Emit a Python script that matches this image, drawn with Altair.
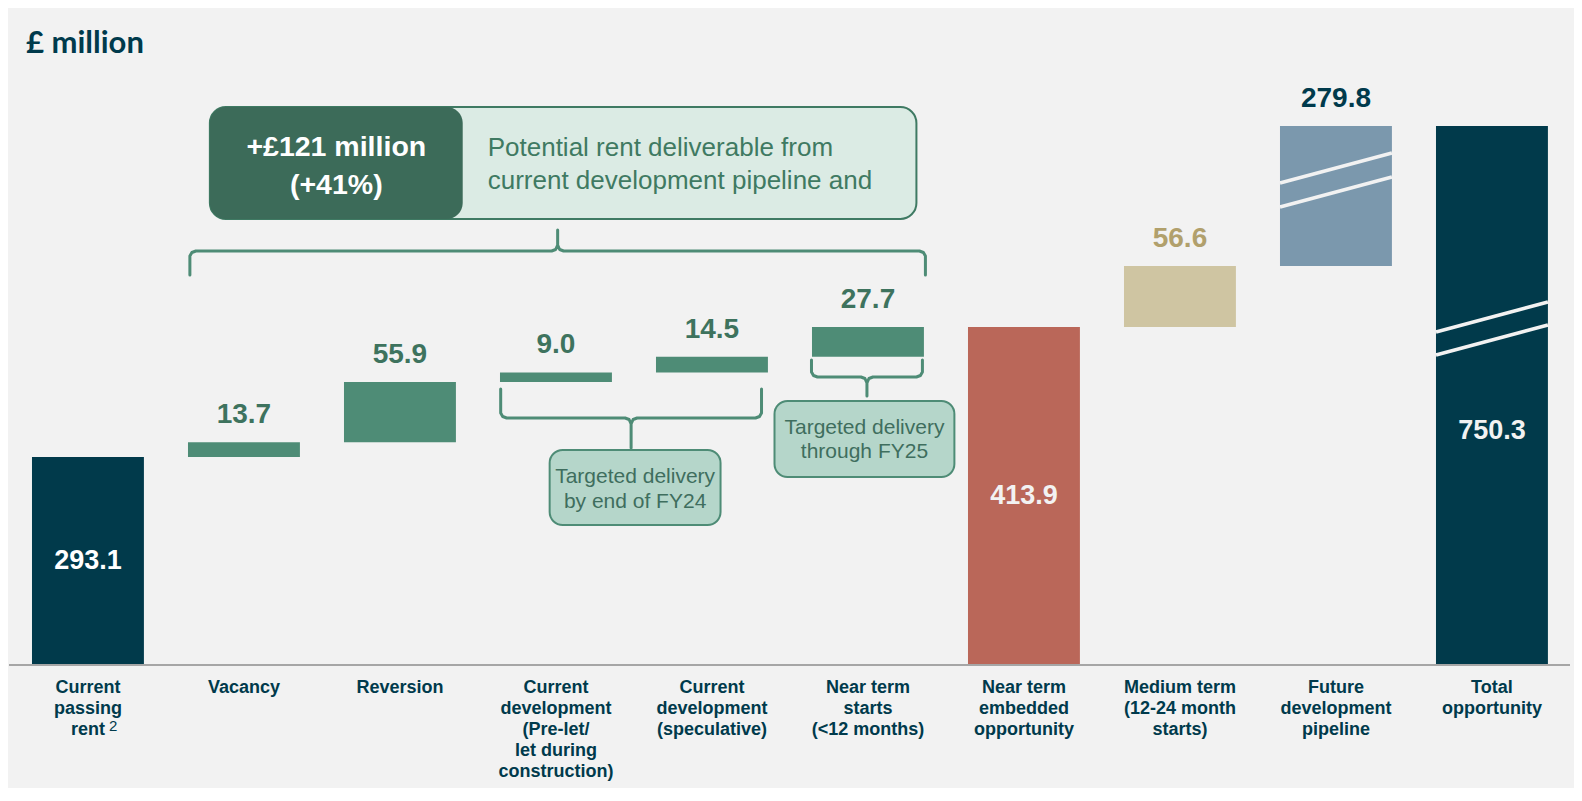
import altair as alt
import pandas as pd

# ---------------- data ----------------
categories = [
    "Current passing rent", "Vacancy", "Reversion",
    "Current development (Pre-let/let during construction)",
    "Current development (speculative)", "Near term starts (<12 months)",
    "Near term embedded opportunity", "Medium term (12-24 month starts)",
    "Future development pipeline", "Total opportunity",
]
tick_labels = [
    "Current\npassing\nrent", "Vacancy", "Reversion",
    "Current\ndevelopment\n(Pre-let/\nlet during\nconstruction)",
    "Current\ndevelopment\n(speculative)", "Near term\nstarts\n(<12 months)",
    "Near term\nembedded\nopportunity", "Medium term\n(12-24 month\nstarts)",
    "Future\ndevelopment\npipeline", "Total\nopportunity",
]
footnote_mark = "2"
values = [293.1, 13.7, 55.9, 9.0, 14.5, 27.7, 413.9, 56.6, 279.8, 750.3]
is_total = [True, False, False, False, False, False, True, False, False, True]
series = ["Passing rent", "Near term growth", "Near term growth", "Near term growth",
          "Near term growth", "Near term growth", "Near term embedded",
          "Medium term", "Future pipeline", "Total"]

headline = ["+\u00a3121 million", "(+41%)"]
headline_note = ["Potential rent deliverable from", "current development pipeline and"]
fy24_note = ["Targeted delivery", "by end of  FY24"]
fy25_note = ["Targeted delivery", "through FY25"]
title_text = "\u00a3 million"

# ---------------- styles / layout ----------------
BAR_COLORS = {"Passing rent": "#013a4b", "Near term growth": "#4e8c76",
              "Near term embedded": "#ba6759", "Medium term": "#cfc5a2",
              "Future pipeline": "#7b98ad", "Total": "#013a4b"}
LABEL_COLORS = {"Near term growth": "#3e735e", "Medium term": "#b1a06c",
                "Future pipeline": "#003a4c"}
DARK = "#003a4c"
GREEN = "#4e8c76"
BG = "#f2f2f2"
FONT = "Liberation Sans"

W, H = 1566, 780
PAGE = 8
X0_PX, STEP_PX = 87.0, 156.1      # page px of first category centre, spacing
BAR_PX = 112
Y_PX = [665, 457, 266.1, 126]      # page px of the y-scale breakpoints


def xv(px):
    return (px - X0_PX) / STEP_PX


# ---------------- waterfall table ----------------
rows = []
running = 0.0
for i, (c, v, t, s) in enumerate(zip(categories, values, is_total, series)):
    start = 0.0 if t else running
    end = v if t else running + v
    running = end
    rows.append(dict(idx=i, category=c, tick=tick_labels[i], value=v, start=start,
                     end=end, series=s, total=t, label=f"{v:.1f}"))
df = pd.DataFrame(rows)
half = BAR_PX / 2 / STEP_PX
df["xl"] = df["idx"] - half
df["xr"] = df["idx"] + half

Y_BREAKS = [0.0, float(df["end"][0]), float(df["end"][7]), float(df["end"][9])]


def ypx(v):
    b, p = Y_BREAKS, Y_PX
    k = 0
    while k < len(b) - 2 and v > b[k + 1]:
        k += 1
    return p[k] + (v - b[k]) * (p[k + 1] - p[k]) / (b[k + 1] - b[k])


def yv(py):
    b, p = Y_BREAKS, Y_PX
    k = 0
    while k < len(p) - 2 and py < p[k + 1]:
        k += 1
    return b[k] + (py - p[k]) * (b[k + 1] - b[k]) / (p[k + 1] - p[k])


X_SCALE = alt.Scale(domain=[xv(PAGE), xv(PAGE + W)], nice=False, zero=False)
Y_SCALE = alt.Scale(domain=Y_BREAKS, range=[p - PAGE for p in Y_PX], nice=False, zero=False)


def X(f):
    return alt.X(f, type="quantitative", scale=X_SCALE, axis=None)


def Y(f):
    return alt.Y(f, type="quantitative", scale=Y_SCALE, axis=None)


layers = []

# bars
layers.append(
    alt.Chart(df).mark_rect().encode(
        x=X("xl"), x2="xr", y=Y("start"), y2="end",
        color=alt.Color("series:N", legend=None,
                        scale=alt.Scale(domain=list(BAR_COLORS.keys()),
                                        range=list(BAR_COLORS.values()))),
    )
)

# baseline
base_df = pd.DataFrame([{"x": xv(PAGE), "x2": xv(1570), "y": 0.0}])
layers.append(alt.Chart(base_df).mark_rule(color="#a6a6a6", strokeWidth=2).encode(
    x=X("x"), x2="x2", y=Y("y")))

# axis break marks (white slanted lines)
brk = []
for i, pts in [(8, [(183, 153), (207, 177)]), (9, [(332, 302), (355, 325)])]:
    for (yl, yr) in pts:
        brk.append(dict(x=df["xl"][i], x2=df["xr"][i], y=yv(yl), y2=yv(yr)))
brk_df = pd.DataFrame(brk)
layers.append(alt.Chart(brk_df).mark_rule(color=BG, strokeWidth=3.5).encode(
    x=X("x"), x2="x2", y=Y("y"), y2="y2"))

# value labels above bars
above = df[~df["total"]]
for s, col in LABEL_COLORS.items():
    sub = above[above["series"] == s]
    layers.append(alt.Chart(sub).mark_text(
        font=FONT, fontSize=28, fontWeight="bold", color=col, dy=-27, baseline="middle"
    ).encode(x=X("idx"), y=Y("end"), text="label:N"))

# value labels inside total bars
inside = df[df["total"]].copy()
inside["ymid"] = [yv((ypx(a) + ypx(b)) / 2) for a, b in zip(inside["start"], inside["end"])]
layers.append(alt.Chart(inside[inside["idx"] == 0]).mark_text(
    font=FONT, fontSize=27, fontWeight="bold", color="#ffffff", baseline="middle"
).encode(x=X("idx"), y=Y("ymid"), text="label:N"))
layers.append(alt.Chart(inside[inside["idx"] == 6]).mark_text(
    font=FONT, fontSize=27, fontWeight="bold", color=BG, baseline="middle"
).encode(x=X("idx"), y=Y("ymid"), text="label:N"))
layers.append(alt.Chart(inside[inside["idx"] == 9]).mark_text(
    font=FONT, fontSize=27, fontWeight="bold", color=BG, baseline="middle", dy=35
).encode(x=X("idx"), y=Y("ymid"), text="label:N"))

# category labels
cat_df = df[["idx", "tick"]].copy()
cat_df["y"] = 0.0
layers.append(alt.Chart(cat_df).mark_text(
    font=FONT, fontSize=18, fontWeight="bold", color=DARK, baseline="top",
    lineBreak="\n", lineHeight=21, dy=14
).encode(x=X("idx"), y=Y("y"), text="tick:N"))

# footnote marker after "rent"
fn_df = pd.DataFrame([dict(x=xv(108), y=yv(726), t=footnote_mark)])
layers.append(alt.Chart(fn_df).mark_text(
    font=FONT, fontSize=15, color=DARK, baseline="middle", align="left"
).encode(x=X("x"), y=Y("y"), text="t:N"))


# braces
def brace(bid, L, R, y_end, y_h, y_tip):
    C = (L + R) / 2
    d = 1 if y_tip > y_h else -1
    e = -d
    pts = [(L, y_end), (L, y_h + e * 5), (L + 2, y_h + e * 1.5), (L + 6, y_h),
           (C - 6, y_h), (C - 2, y_h + d * 1.5), (C, y_h + d * 6), (C, y_tip),
           (C, y_h + d * 6), (C + 2, y_h + d * 1.5), (C + 6, y_h),
           (R - 6, y_h), (R - 2, y_h + e * 1.5), (R, y_h + e * 5), (R, y_end)]
    return [dict(b=bid, o=k, x=xv(px), y=yv(py)) for k, (px, py) in enumerate(pts)]


br_df = pd.DataFrame(
    brace("all", 189, 925, 275, 251, 230)
    + brace("fy24", 500, 761, 389, 418, 448)
    + brace("fy25", 811, 922, 360, 377, 396)
)
layers.append(alt.Chart(br_df).mark_line(
    color=GREEN, strokeWidth=3, strokeCap="round", strokeJoin="round"
).encode(x=X("x"), y=Y("y"), detail="b:N", order="o:Q"))

# boxes
big_light = pd.DataFrame([dict(x=xv(209), x2=xv(916), y=yv(107), y2=yv(219))])
big_dark = pd.DataFrame([dict(x=xv(209), x2=xv(462), y=yv(107), y2=yv(219))])
small = pd.DataFrame([dict(x=xv(549), x2=xv(720), y=yv(450), y2=yv(525)),
                      dict(x=xv(774), x2=xv(954), y=yv(401), y2=yv(477))])
layers.append(alt.Chart(big_light).mark_rect(
    fill="#dbebe4", stroke="#3f7a63", strokeWidth=2, cornerRadius=16
).encode(x=X("x"), x2="x2", y=Y("y"), y2="y2"))
layers.append(alt.Chart(big_dark).mark_rect(
    fill="#3c6b59", cornerRadius=16
).encode(x=X("x"), x2="x2", y=Y("y"), y2="y2"))
layers.append(alt.Chart(small).mark_rect(
    fill="#b5d6ca", stroke=GREEN, strokeWidth=2, cornerRadius=13
).encode(x=X("x"), x2="x2", y=Y("y"), y2="y2"))

# box texts
head_df = pd.DataFrame([dict(x=xv(335.5), y=yv(147), t=headline[0]),
                        dict(x=xv(335.5), y=yv(185), t=headline[1])])
layers.append(alt.Chart(head_df).mark_text(
    font=FONT, fontSize=28.5, fontWeight="bold", color="#ffffff", baseline="middle"
).encode(x=X("x"), y=Y("y"), text="t:N"))

note_df = pd.DataFrame([dict(x=xv(487), y=yv(148), t=headline_note[0]),
                        dict(x=xv(487), y=yv(181), t=headline_note[1])])
layers.append(alt.Chart(note_df).mark_text(
    font=FONT, fontSize=26, color="#3f7a62", baseline="middle", align="left"
).encode(x=X("x"), y=Y("y"), text="t:N"))

small_txt = pd.DataFrame([
    dict(x=xv(634.5), y=yv(477), t=fy24_note[0]),
    dict(x=xv(634.5), y=yv(502), t=fy24_note[1]),
    dict(x=xv(864), y=yv(428), t=fy25_note[0]),
    dict(x=xv(864), y=yv(452), t=fy25_note[1]),
])
layers.append(alt.Chart(small_txt).mark_text(
    font=FONT, fontSize=21, color="#3f6e5e", baseline="middle"
).encode(x=X("x"), y=Y("y"), text="t:N"))

# title
title_df = pd.DataFrame([dict(x=xv(25), y=yv(44), t=title_text)])
layers.append(alt.Chart(title_df).mark_text(
    font="Lato", fontSize=31, fontWeight="bold", color=DARK, baseline="middle", align="left"
).encode(x=X("x"), y=Y("y"), text="t:N"))

chart = alt.layer(*layers).properties(
    width=W, height=H, padding=0,
    autosize=alt.AutoSizeParams(type="fit", contains="padding"),
).configure(background=BG).configure_view(stroke=None)

chart.save("out.html", embed_options={"renderer": "svg", "actions": False})
